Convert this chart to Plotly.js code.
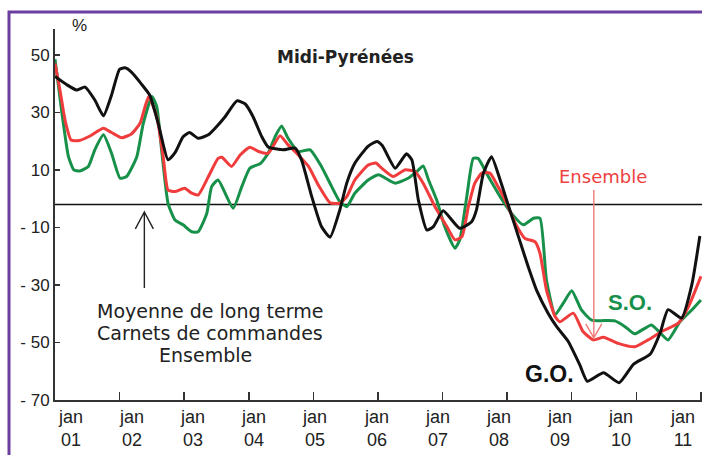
<!DOCTYPE html>
<html>
<head>
<meta charset="utf-8">
<script src="https://cdn.plot.ly/plotly-3.0.1.min.js"></script>
<style>html,body{margin:0;padding:0;background:#fff;}#chart{width:702px;height:455px;}</style>
</head>
<body>
<div id="chart"></div>
<script>
// ---- Data (x = months since January 2001) ----
const yearLabels = ["01","02","03","04","05","06","07","08","09","10","11"];
const yearTickMonths = [0,12,24,36,48,60,72,84,96,108,120];

const goMonths = [0,2.2,4,5.6,7.4,9,10.5,12,13,14.2,16,17.6,19.2,21,22.3,23.8,25,26.6,28.5,30,31.6,33.8,35.3,36.8,38.4,39.6,42.4,44.6,45.8,47.7,49.5,51.1,52.9,54.2,55.7,58.2,59.8,60.8,63.2,65.3,66.3,67.5,69.1,70.3,72.1,75.2,77.4,78.3,79.6,81.1,82.7,84.2,86.1,87.9,89.5,91.6,93.2,95.3,97.5,98.9,101.9,104.8,107.5,110.6,112.4,113.9,116.4,118.3,119.8];
const goValues = [42.5,39.6,37.8,38.8,34.3,28.8,36,45,45.5,44,40,36,26,13.5,16,21.5,23,21,22.2,25,28.5,34,33,28.5,21.6,18,17,17.6,13.5,0.7,-9.7,-13.4,-4,5.4,12.3,18.3,19.9,18.5,10.6,15.6,13.5,-0.4,-10.9,-9.7,-4.2,-10.3,-8,-3.9,8.9,14.6,6.5,-2.2,-13.2,-23.6,-32,-39.8,-44.5,-49.5,-57.8,-63.5,-60.5,-64,-57.5,-54,-46.8,-38.6,-41.5,-30,-13];

const enMonths = [0,0.9,1.9,3,4.5,6.5,9,10.5,12.4,14.2,15.8,17.4,18.9,20.1,21,22.3,24.1,25.4,26.6,28.5,30.3,31,32.8,34.4,36.2,37.8,39.6,41.8,43.3,45.2,47.1,48.9,51.1,52.9,54.2,55.7,58.2,59.6,60.7,62.8,65,66.9,68.4,70.6,72.8,74.3,75.6,76.8,78,79.3,80.8,82.3,83.9,85.5,87.3,89.2,90.1,91.3,92.9,93.8,96.3,98.1,100,101.9,104.6,107.7,110.2,112.7,115.8,117.7,120];
const enValues = [47,38,27,20.4,20.2,21.8,24.5,23,21.2,22.5,26.2,35.5,28.5,14.6,3,2.5,3.6,1.9,1.3,7.7,14,14.4,11.2,15.2,17.9,16.4,15.8,21.9,18.7,15.2,11.2,4.8,-1.4,-1.6,0.7,6.5,11.7,12.4,10.6,7.7,10,9.4,5.4,-2.8,-9.7,-14.3,-13.2,-2.8,5.4,8.9,8.9,4.2,-1.6,-8.5,-13.8,-15,-19,-31.7,-41,-42.8,-39.8,-46.2,-49.1,-48.2,-50.3,-51.5,-49.1,-46.2,-43.3,-37.5,-27];

const soMonths = [0,1.2,2.5,3.5,4.6,6.2,7.4,9,10.5,12.1,13.3,15.2,16.4,18,18.9,19.8,21,22.3,23.8,25.4,26.6,28.2,29.1,30.3,33.1,34.7,36.2,38.2,39.6,40.9,42.1,43.3,45.2,47.4,49.5,51.4,52.9,54.2,55.7,58.2,60.1,63.2,65.6,67.2,68.4,69.4,70.9,72.4,74.3,75.2,76.5,77.7,78.6,80.5,82.7,84.8,87,88.9,90.1,91.3,92.9,94.4,96,97.8,99.7,104,105.9,107.7,110.8,112.4,113.9,116.1,118.3,120];
const soValues = [48.5,31,14.6,10,9.6,11.2,17,22.2,15.8,7.1,7.7,14.6,26.2,35.5,32,17,-1.6,-7.4,-9.1,-11.5,-11.5,-5.1,4.2,6.5,-3.3,4.2,10.6,12.3,15.8,21.6,25.3,21,16.4,17,11.2,4.2,-1,-2.8,1.9,6.5,8.3,5.4,7.1,9.4,11.4,6.5,-0.4,-9.7,-17.2,-14.3,0.7,14,14,7.7,0.7,-5.1,-9.1,-6.8,-6.8,-28.3,-40.4,-36.4,-32,-38.7,-42.2,-42.5,-44.5,-47,-43.9,-46.6,-49.1,-42.8,-38.7,-35.2];

const longTermMean = -2;
const yTickVals = [50,30,10,-10,-30,-50,-70];
const yTickText = ["50","30","10","- 10","- 30","- 50","- 70"];

// ---- Layout helpers (pixel -> paper) ----
const L = 55, R = 702, T = 29, B = 400;
const W = R - L, H = B - T;
const px = x => (x - L) / W;
const py = y => (B - y) / H;

const ARIAL = "Liberation Sans, Arial, sans-serif";
const DEJA = "DejaVu Sans, Verdana, sans-serif";

const lineStyle = (c) => ({color: c, width: 3, shape: "spline", smoothing: 0.5});
const traces = [
  {x: soMonths, y: soValues, mode: "lines", line: lineStyle("#17904a"), name: "S.O."},
  {x: enMonths, y: enValues, mode: "lines", line: lineStyle("#f03c3c"), name: "Ensemble"},
  {x: goMonths, y: goValues, mode: "lines", line: lineStyle("#111111"), name: "G.O."}
];

const annotations = [];
function txt(text, x, y, font, extra) {
  annotations.push(Object.assign({text: text, xref: "paper", yref: "paper", x: px(x), y: py(y),
    xanchor: "center", yanchor: "middle", showarrow: false, font: font}, extra || {}));
}
txt("%", 79, 26, {family: ARIAL, size: 17, color: "#222"});
txt("<b>Midi-Pyrénées</b>", 345, 57, {family: DEJA, size: 17, color: "#222"});
txt("Moyenne de long terme", 210, 311, {family: DEJA, size: 19, color: "#222"});
txt("Carnets de commandes", 210, 333, {family: DEJA, size: 19, color: "#222"});
txt("Ensemble", 205, 355, {family: DEJA, size: 19, color: "#222"});
txt("Ensemble", 603, 176, {family: DEJA, size: 18, color: "#ee4040"});
txt("<b>S.O.</b>", 630, 302, {family: ARIAL, size: 22, color: "#17904a"});
txt("<b>G.O.</b>", 549, 374, {family: ARIAL, size: 23, color: "#111"});

yearLabels.forEach((lab, i) => {
  txt("jan<br>" + lab, 70 + i * 61.2, 428, {family: ARIAL, size: 18, color: "#222"});
});

// open-V arrows (pixel-sized, anchored at the tip)
function arrowShape(xa, ya, path, color) {
  return {type: "path", xref: "x", yref: "y", xsizemode: "pixel", ysizemode: "pixel",
    xanchor: xa, yanchor: ya, path: path, line: {color: color, width: 1.4}};
}

const layout = {
  width: 702, height: 455,
  margin: {l: L, r: 702 - R, t: T, b: 455 - B, pad: 0},
  paper_bgcolor: "#fff", plot_bgcolor: "#fff",
  showlegend: false,
  xaxis: {range: [0, 120.2], tickvals: yearTickMonths, showticklabels: false,
    ticks: "inside", ticklen: 8, tickwidth: 1.5, tickcolor: "#333",
    showline: true, linecolor: "#333", linewidth: 2, showgrid: false, zeroline: false},
  yaxis: {range: [-70, 59], tickvals: yTickVals, ticktext: yTickText,
    tickfont: {family: ARIAL, size: 17, color: "#222"},
    ticks: "inside", ticklen: 5, tickwidth: 1.5, tickcolor: "#333",
    showline: true, linecolor: "#333", linewidth: 2, showgrid: false, zeroline: false},
  shapes: [
    {type: "line", xref: "paper", yref: "y", x0: 0, x1: 1, y0: longTermMean, y1: longTermMean,
      line: {color: "#111", width: 1.5}, layer: "below"},
    arrowShape(16.6, -4.6, "M -9,-17 L 0,0 L 9,-17 M 0,0 L 0,-76", "#222"),
    arrowShape(100.1, -48.4, "M -8,14 L 0,0 L 8,14 M 0,0 L 0,148", "#f07a7a"),
    {type: "rect", xref: "paper", yref: "paper", x0: px(9), x1: px(720), y0: py(12), y1: py(480),
      line: {color: "#6a3fa0", width: 3}, fillcolor: "rgba(0,0,0,0)"}
  ],
  annotations: annotations
};

Plotly.newPlot("chart", traces, layout, {displayModeBar: false, staticPlot: true});
</script>
</body>
</html>
